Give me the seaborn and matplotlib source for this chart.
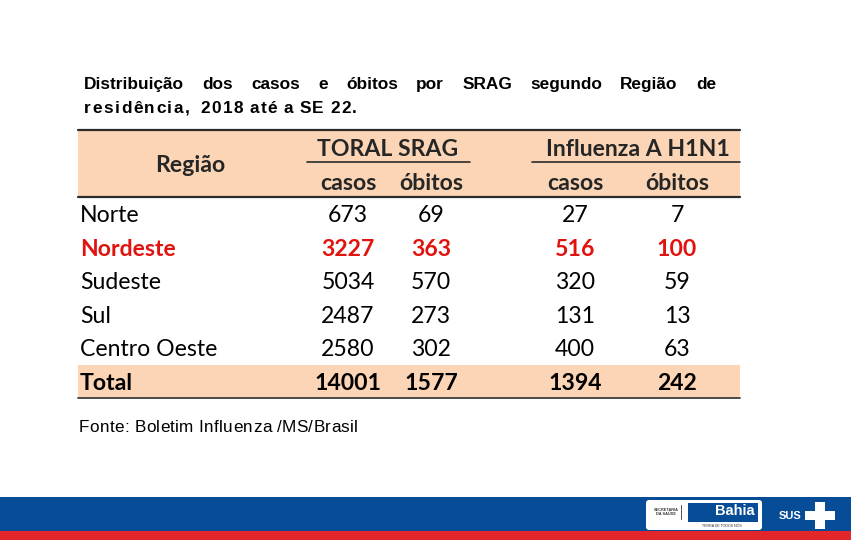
import pandas as pd
import matplotlib.pyplot as plt
import seaborn as sns
from matplotlib.patches import Rectangle, FancyBboxPatch

# table data
regioes = ['Norte', 'Nordeste', 'Sudeste', 'Sul', 'Centro Oeste']
srag_casos = [673, 3227, 5034, 2487, 2580]
srag_obitos = [69, 363, 570, 273, 302]
h1n1_casos = [27, 516, 320, 131, 400]
h1n1_obitos = [7, 100, 59, 13, 63]

titulo1 = 'Distribuição dos casos e óbitos por SRAG segundo Região de'
titulo2 = 'residência,  2018 até a SE 22.'
fonte = 'Fonte: Boletim Influenza /MS/Brasil'

df = pd.DataFrame({'regiao': regioes, 'srag_casos': srag_casos, 'srag_obitos': srag_obitos,
                   'h1n1_casos': h1n1_casos, 'h1n1_obitos': h1n1_obitos})
totais = df.drop(columns='regiao').sum()

sns.set_theme(style='white')
plt.rcParams['font.family'] = ['Lato', 'DejaVu Sans']

PEACH = '#fbd5b5'
RED = '#e0130f'
BLUE = '#074c97'
ARIAL = ['Liberation Sans', 'DejaVu Sans']

fig = plt.figure(figsize=(8.51, 5.40), dpi=100)
ax = fig.add_axes([0, 0, 1, 1])
ax.set_xlim(0, 851)
ax.set_ylim(540, 0)
ax.axis('off')
fig.canvas.draw()
rend = fig.canvas.get_renderer()


def largura(s, **kw):
    t = ax.text(0, 0, s, **kw)
    w = t.get_window_extent(renderer=rend).width
    t.remove()
    return w


def texto_espacado(s, x0, x1, y, track=None, **kw):
    # draws text char by char with letter spacing (y = baseline)
    palavras = s.split(' ')
    cw = [[largura(c, **kw) for c in p] for p in palavras]
    esp = largura('a a', **kw) - largura('aa', **kw)
    nat = sum(sum(w) for w in cw)
    nchar = sum(len(p) for p in palavras)
    if track is None:
        track = (x1 - x0 - nat - esp * (len(palavras) - 1)) / (nchar - 1)
    x = x0
    for p, w in zip(palavras, cw):
        for c, wc in zip(p, w):
            ax.text(x, y, c, ha='left', va='baseline', **kw)
            x += wc + track
        x += esp
    return track


def linha_justificada(s, x0, x1, y, **kw):
    # whole words, only the gaps get stretched (y = baseline)
    palavras = s.split(' ')
    pw = [largura(p, **kw) for p in palavras]
    gap = (x1 - x0 - sum(pw)) / (len(palavras) - 1)
    x = x0
    for p, w in zip(palavras, pw):
        ax.text(x, y, p, ha='left', va='baseline', **kw)
        x += w + gap


# --- title ---
tfont = dict(family=ARIAL, weight='bold', fontsize=12.4, color='black')
linha_justificada(titulo1, 84, 716, 89, **tfont)
texto_espacado(titulo2, 84, 357, 113, **tfont)

# --- table ---
left, right = 78, 740
ax.add_patch(Rectangle((left, 130), right - left, 66, color=PEACH, lw=0))
ax.add_patch(Rectangle((left, 365), right - left, 32, color=PEACH, lw=0))
ax.plot([left, right], [129.5, 129.5], color='#2b2b2b', lw=1.6)
ax.plot([left, right], [196.5, 196.5], color='#2b2b2b', lw=1.6)
ax.plot([left, right], [397.5, 397.5], color='#2b2b2b', lw=1.2)
ax.plot([307, 470], [162, 162], color='#2b2b2b', lw=1.2)
ax.plot([532, right], [162, 162], color='#2b2b2b', lw=1.2)

fs = 16.6
hfont = dict(fontsize=fs, weight='bold', color='#262626', va='center', ha='center')
ax.text(190, 166, 'Região', **hfont)
ax.text(388, 150, 'TORAL SRAG', **hfont)
ax.text(638, 150, 'Influenza A H1N1', **hfont)
col_x = [348, 431, 575, 677]
for cx, lab in zip(col_x, ['casos', 'óbitos', 'casos', 'óbitos']):
    ax.text(cx, 184, lab, **hfont)

row_y0, row_dy = 216, 33.4
cols = ['srag_casos', 'srag_obitos', 'h1n1_casos', 'h1n1_obitos']
for i, row in df.iterrows():
    y = row_y0 + i * row_dy
    destaque = row['regiao'] == 'Nordeste'
    kw = dict(fontsize=fs, va='center', color=RED if destaque else 'black',
              weight='bold' if destaque else 'normal')
    ax.text(80, y, row['regiao'], ha='left', **kw)
    for cx, c in zip(col_x, cols):
        ax.text(cx, y, f'{row[c]}', ha='center', **kw)

y = row_y0 + len(df) * row_dy
tkw = dict(fontsize=fs, va='center', color='black', weight='bold')
ax.text(80, y, 'Total', ha='left', **tkw)
for cx, c in zip(col_x, cols):
    ax.text(cx, y, f'{totais[c]}', ha='center', **tkw)

texto_espacado(fonte, 79, 358, 432, family=ARIAL, fontsize=12.3, color='black')

# --- footer band ---
ax.add_patch(Rectangle((0, 497), 851, 34, color=BLUE, lw=0))
ax.add_patch(Rectangle((0, 531), 851, 9, color='#e3262a', lw=0))
ax.add_patch(FancyBboxPatch((646, 500), 116, 30, boxstyle='round,pad=0,rounding_size=3',
                            color='white', lw=0))
ax.text(666, 512, 'SECRETARIA\nDA SAÚDE', fontsize=2.8, ha='center', va='center',
        color='#333333', family=ARIAL, weight='bold', linespacing=1.2)
ax.plot([681, 681], [505, 519], color='#333333', lw=0.6)
ax.add_patch(Rectangle((688, 503), 70, 19, color=BLUE, lw=0))
ax.text(735, 511, 'Bahia', fontsize=10.5, weight='bold', color='white', ha='center', va='center',
        family=ARIAL)
ax.text(722, 526, 'TERRA DE TODOS NÓS', fontsize=2.6, color='#333333', ha='center', va='center',
        family=ARIAL)
ax.text(790, 516, 'SUS', fontsize=8, weight='bold', color='white', ha='center', va='center',
        family=ARIAL)
ax.add_patch(Rectangle((805, 511), 30, 9, color='white', lw=0))
ax.add_patch(Rectangle((815, 502), 10, 27, color='white', lw=0))

fig.savefig('out.png', dpi=100)
